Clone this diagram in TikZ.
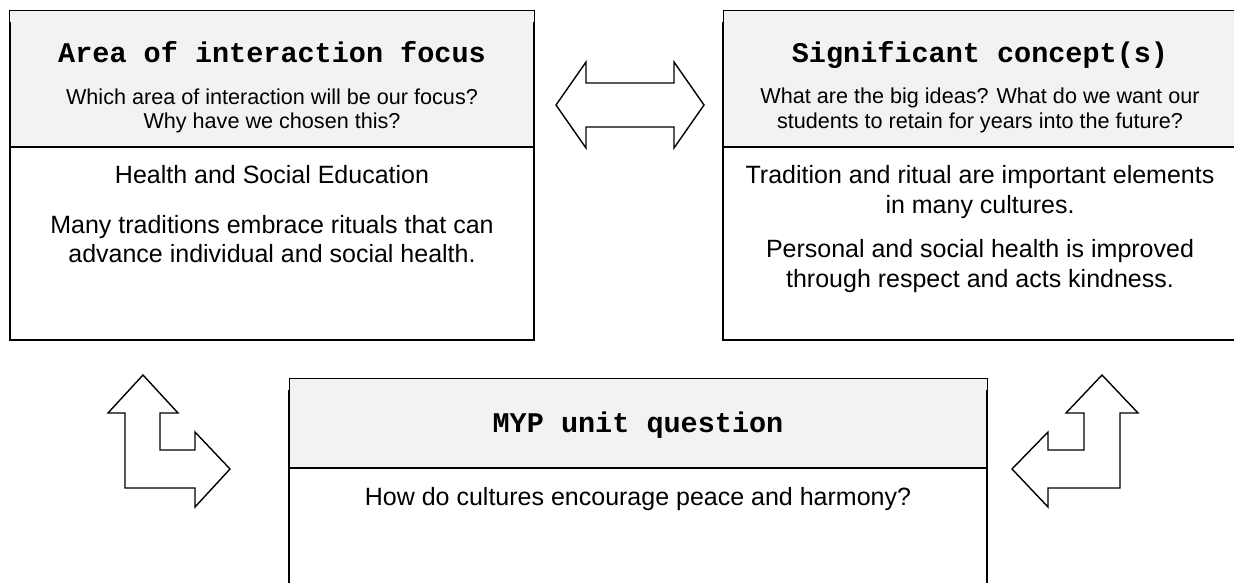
\documentclass[tikz,border=0pt]{standalone}
\usepackage{fontspec}
\newfontfamily\bodyfont{Liberation Sans}
\newfontfamily\headfont{Liberation Mono}
\definecolor{headgray}{HTML}{F2F2F2}
\begin{document}
\begin{tikzpicture}[x=1pt,y=-1pt,
  headcell/.style={draw=black, line width=1pt, fill=headgray},
  frame/.style={draw=black, line width=2pt},
  blockarrow/.style={draw=black, line width=1.4pt, line join=miter, fill=white},
  titletxt/.style={anchor=base, inner sep=0pt, font=\headfont\bfseries\fontsize{28.5}{30}\selectfont},
  subtxt/.style={anchor=base, inner sep=0pt, font=\bodyfont\fontsize{21.6}{24}\selectfont},
  bodytxt/.style={anchor=base, inner sep=0pt, font=\bodyfont\fontsize{25}{29}\selectfont}]
\useasboundingbox (0,0) rectangle (1234,582);

% --- Area of interaction focus ---
\draw[headcell] (9.5,10) rectangle (534,147);
\draw[frame] (9.5,22) -- (9.5,340) -- (534,340) -- (534,22);
\draw[frame] (9.5,147) -- (534,147);
\node[titletxt] (aoiT) at (272,62) {Area of interaction focus};
\node[subtxt] (aoiQa) at (272,104) {Which area of interaction will be our focus?};
\node[subtxt] (aoiQb) at (272,128) {Why have we chosen this?};
\node[bodytxt] (aoiA) at (272,183) {Health and Social Education};
\node[bodytxt] (aoiBa) at (272,233) {Many traditions embrace rituals that can};
\node[bodytxt] (aoiBb) at (272,262) {advance individual and social health.};

% --- Significant concept(s) ---
\draw[headcell] (723,10) rectangle (1240,147);
\draw[frame] (723,22) -- (723,340) -- (1240,340);
\draw[frame] (723,147) -- (1240,147);
\node[titletxt] (sigT) at (980,62) {Significant concept(s)};
\node[subtxt] (sigQa) at (980,103) {What are the big ideas? What do we want our};
\node[subtxt] (sigQb) at (980,128) {students to retain for years into the future?};
\node[bodytxt] (sigAa) at (980,183) {Tradition and ritual are important elements};
\node[bodytxt] (sigAb) at (980,213) {in many cultures.};
\node[bodytxt] (sigBa) at (980,257) {Personal and social health is improved};
\node[bodytxt] (sigBb) at (980,287) {through respect and acts kindness.};

% --- MYP unit question ---
\draw[headcell] (289,378) rectangle (987,468);
\draw[frame] (289,390) -- (289,600);
\draw[frame] (987,390) -- (987,600);
\draw[frame] (289,468) -- (987,468);
\node[titletxt] (mypT) at (638,432) {MYP unit question};
\node[bodytxt] (mypQ) at (638,505) {How do cultures encourage peace and harmony?};

% --- block arrows ---
\draw[blockarrow] (556,105) -- (586,62) -- (586,83) -- (674,83) -- (674,62)
  -- (704,105) -- (674,148) -- (674,127) -- (586,127) -- (586,148) -- cycle;

\draw[blockarrow] (143,375) -- (178,413) -- (160,413) -- (160,450) -- (195,450)
  -- (195,432) -- (230,469) -- (195,507) -- (195,488) -- (125,488) -- (125,413)
  -- (108,413) -- cycle;

\draw[blockarrow] (1012,469) -- (1048,432) -- (1048,450) -- (1084,450) -- (1084,413)
  -- (1066,413) -- (1102,375) -- (1138,413) -- (1120,413) -- (1120,488)
  -- (1048,488) -- (1048,507) -- cycle;
\end{tikzpicture}
\end{document}
